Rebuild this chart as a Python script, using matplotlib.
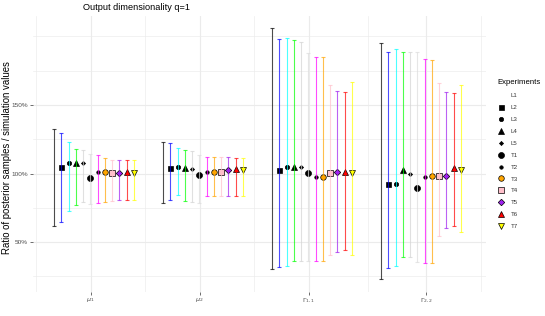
import matplotlib
matplotlib.use("Agg")
import matplotlib.pyplot as plt
from matplotlib.lines import Line2D
import numpy as np

plt.rcParams['font.family'] = ['Liberation Sans', 'DejaVu Sans']

# experiments and parameters
experiments = ['L1', 'L2', 'L3', 'L4', 'L5', 'T1', 'T2', 'T3', 'T4', 'T5', 'T6', 'T7']
param_labels = [r'$\mu_1$', r'$\mu_2$', r'$\Gamma_{1,1}$', r'$\Gamma_{2,2}$']

# ratio of posterior samples / simulation values (%)
point_mu1 = [np.nan, 104.6, 107.3, 107.5, 107.3, 96.6, 100.9, 100.8, 100.5, 100.5, 101.2, 100.5]
point_mu2 = [np.nan, 103.9, 105.1, 103.9, 103.1, 98.8, 101.2, 101.0, 101.2, 102.9, 103.1, 102.4]
point_g11 = [np.nan, 102.2, 104.4, 105.1, 105.1, 100.7, 97.8, 97.6, 100.7, 101.0, 101.2, 100.2]
point_g22 = [np.nan, 92.5, 92.5, 102.4, 99.5, 89.1, 97.3, 98.5, 98.5, 98.5, 103.9, 102.4]

lower_mu1 = [61.4, 64.8, 72.3, 76.9, 78.9, 77.9, 78.4, 79.1, 80.3, 80.9, 80.9, 80.9]
lower_mu2 = [78.2, 80.6, 84.5, 80.3, 79.1, 78.2, 83.3, 83.3, 83.3, 83.3, 83.3, 83.3]
lower_g11 = [30.4, 31.8, 32.5, 36.0, 36.5, 36.0, 36.0, 36.0, 40.3, 43.0, 44.5, 40.8]
lower_g22 = [23.1, 31.4, 32.3, 39.1, 39.1, 35.2, 35.0, 35.0, 54.1, 60.2, 61.9, 57.6]

upper_mu1 = [132.7, 129.3, 123.1, 117.7, 117.5, 114.3, 113.6, 111.1, 109.7, 109.7, 110.0, 110.0]
upper_mu2 = [123.1, 122.0, 118.7, 117.2, 116.2, 113.3, 111.9, 111.9, 111.9, 111.9, 111.4, 111.4]
upper_g11 = [206.0, 198.3, 199.0, 197.5, 196.1, 187.6, 185.2, 185.2, 164.3, 160.2, 159.2, 166.7]
upper_g22 = [194.8, 188.8, 190.8, 188.6, 188.6, 188.6, 183.7, 182.5, 165.7, 159.7, 158.7, 164.6]

points = np.array([point_mu1, point_mu2, point_g11, point_g22])
lowers = np.array([lower_mu1, lower_mu2, lower_g11, lower_g22])
uppers = np.array([upper_mu1, upper_mu2, upper_g11, upper_g22])

# styles per experiment (R colours / pch)
line_colors = ['black', 'blue', 'cyan', '#00FF00', 'lightgray', '#DCDCDC',
               'magenta', 'orange', 'pink', '#A020F0', 'red', 'yellow']
markers = [None, 's', 'o', '^', 'D', 'o', 'o', 'o', 's', 'D', '^', 'v']
msizes = [0, 3.6, 3.1, 3.7, 2.1, 4.3, 2.5, 4.0, 3.8, 3.3, 4.2, 4.2]
mfaces = ['black', 'black', 'black', 'black', 'black', 'black', 'black',
          'orange', 'pink', '#A020F0', 'red', 'yellow']

W, H = 545, 316
fig = plt.figure(figsize=(W / 100, H / 100), dpi=100)
ax = fig.add_axes([33 / W, 1 - 291.5 / H, (486 - 33) / W, (291.5 - 15.6) / H])

xpos = np.arange(1, 5)
n = len(experiments)
dodge = 0.8 / n

for i, exp in enumerate(experiments):
    xs = xpos + (i - (n - 1) / 2) * dodge
    if markers[i] is not None:
        ax.plot(xs, points[:, i], linestyle='none', marker=markers[i], ms=msizes[i],
                mfc=mfaces[i], mec='black', mew=0.5, zorder=3)
    ax.errorbar(xs, (lowers[:, i] + uppers[:, i]) / 2,
                yerr=[(uppers[:, i] - lowers[:, i]) / 2, (uppers[:, i] - lowers[:, i]) / 2],
                fmt='none', ecolor=line_colors[i], alpha=0.7, elinewidth=0.8,
                capsize=1.6, capthick=0.8, zorder=4)

# scales (ggplot-like 5% expansion)
lo, hi = lowers.min(), uppers.max()
pad = (hi - lo) * 0.05
ax.set_ylim(lo - pad, hi + pad)
ax.set_xlim(0.44, 4.596)

xticks = [0.97, 1.97, 2.97, 4.05]
ax.set_xticks(xticks)
ax.set_xticklabels(param_labels)
ax.set_xticks([0.47, 1.47, 2.47, 3.51, 4.55], minor=True)
ax.set_yticks([50, 100, 150])
ax.set_yticklabels(['50%', '100%', '150%'])
ax.set_yticks([25, 75, 125, 175, 200], minor=True)

for s in ax.spines.values():
    s.set_visible(False)
ax.grid(True, which='major', color='#EBEBEB', linewidth=0.8, zorder=0)
ax.grid(True, which='minor', color='#EBEBEB', linewidth=0.45, zorder=0)
ax.set_axisbelow(True)
ax.tick_params(which='major', length=2, width=0.5, color='#333333',
               labelsize=4.6, labelcolor='#4D4D4D', pad=1.5)
ax.tick_params(which='minor', length=0)

fig.text(83 / W, 1 - 8 / H, 'Output dimensionality q=1', fontsize=6.6,
         ha='left', va='center')
fig.text(7 / W, 1 - 158 / H, 'Ratio of posterior samples / simulation values',
         fontsize=6.9, rotation=90, ha='center', va='center')

handles = []
for i, exp in enumerate(experiments):
    handles.append(Line2D([], [], linestyle='none', marker=markers[i] if markers[i] else '',
                          ms=msizes[i], mfc=mfaces[i], mec='black', mew=0.5))
leg = fig.legend(handles, experiments, loc='upper left',
                 bbox_to_anchor=(492 / W, 1 - 74 / H), frameon=False,
                 title='Experiments', fontsize=4.4, title_fontsize=5.6,
                 handlelength=1.2, handletextpad=0.9, labelspacing=1.08,
                 alignment='left')
for t in leg.get_texts():
    t.set_color('#333333')

fig.savefig('out.png', dpi=100)
